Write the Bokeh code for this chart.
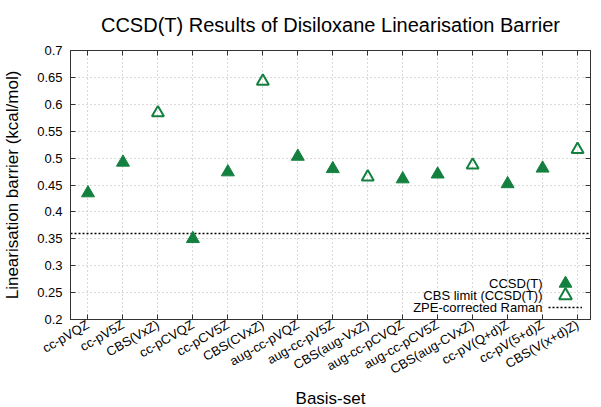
import math
from bokeh.plotting import figure
from bokeh.models import (Range1d, FixedTicker, LinearAxis, Legend, LegendItem,
                          Label, Title, ColumnDataSource)
from bokeh.embed import file_html
from bokeh.resources import INLINE

categories = ["cc-pVQZ", "cc-pV5Z", "CBS(VxZ)", "cc-pCVQZ", "cc-pCV5Z",
              "CBS(CVxZ)", "aug-cc-pVQZ", "aug-cc-pV5Z", "CBS(aug-VxZ)",
              "aug-cc-pCVQZ", "aug-cc-pCV5Z", "CBS(aug-CVxZ)", "cc-pV(Q+d)Z",
              "cc-pV(5+d)Z", "CBS(V(x+d)Z)"]
ccsdt_pos = [1, 2, 4, 5, 7, 8, 10, 11, 13, 14]
ccsdt_vals = [0.435, 0.492, 0.350, 0.474, 0.503, 0.480, 0.461, 0.470, 0.452, 0.481]
cbs_pos = [3, 6, 9, 12, 15]
cbs_vals = [0.584, 0.643, 0.465, 0.487, 0.516]
raman_val = 0.36
y_ticks = [0.2, 0.25, 0.3, 0.35, 0.4, 0.45, 0.5, 0.55, 0.6, 0.65, 0.7]
x_lo, x_hi = 0.5, 15.37
y_lo, y_hi = 0.2, 0.7

GREEN = "#13803f"
FONT = "Liberation Sans"
x_positions = list(range(1, len(categories) + 1))

p = figure(width=593, height=407, output_backend="svg", toolbar_location=None,
           x_range=Range1d(x_lo, x_hi), y_range=Range1d(y_lo, y_hi),
           min_border_left=67, min_border_right=3, min_border_top=50,
           min_border_bottom=86)

p.title.text = "CCSD(T) Results of Disiloxane Linearisation Barrier"
p.title.align = "center"
p.title.vertical_align = "top"
p.title.text_font = FONT
p.title.text_font_size = "20px"
p.title.text_font_style = "normal"
p.title.text_color = "black"
p.title.standoff = 26

p.outline_line_color = "#333333"
p.outline_line_width = 1
p.background_fill_color = "white"
p.border_fill_color = "white"

xt = FixedTicker(ticks=x_positions)
yt = FixedTicker(ticks=y_ticks)

xa = p.xaxis[0]
xa.ticker = xt
xa.major_label_overrides = {i: c for i, c in zip(x_positions, categories)}
xa.major_label_orientation = math.pi / 6
ya = p.yaxis[0]
ya.ticker = yt
ya.major_label_overrides = {t: ("%g" % t) for t in y_ticks}
ya.axis_label = "Linearisation barrier (kcal/mol)"

for ax in (xa, ya):
    ax.major_tick_in = 5
    ax.major_tick_out = 0
    ax.minor_tick_line_color = None
    ax.axis_line_color = "#333333"
    ax.major_tick_line_color = "#333333"
    ax.major_label_text_font = FONT
    ax.major_label_text_font_size = "13px"
    ax.major_label_text_color = "black"
    ax.axis_label_text_font = FONT
    ax.axis_label_text_font_size = "17px"
    ax.axis_label_text_font_style = "normal"
    ax.axis_label_text_color = "black"
xa.major_label_standoff = 4
ya.major_label_standoff = 8
ya.axis_label_standoff = 12

xlabel = Title(text="Basis-set", align="center", text_font=FONT,
               text_font_size="17px", text_font_style="normal",
               text_color="black", standoff=0, offset=0)
p.add_layout(xlabel, "below")

for side, tk in (("right", yt), ("above", xt)):
    ax = LinearAxis(ticker=tk)
    ax.major_tick_in = 5
    ax.major_tick_out = 0
    ax.minor_tick_line_color = None
    ax.axis_line_color = "#333333"
    ax.major_tick_line_color = "#333333"
    ax.major_label_text_font_size = "0px"
    ax.major_label_text_color = None
    ax.major_label_standoff = 0
    p.add_layout(ax, side)

p.xgrid.ticker = xt
p.ygrid.ticker = yt
for g in (p.xgrid, p.ygrid):
    g.grid_line_color = "#b4b4b4"
    g.grid_line_dash = "1 3"
    g.grid_line_width = 1

raman_r = p.line(x=[x_lo, x_hi], y=[raman_val, raman_val], line_color="black",
                 line_width=1.5, line_dash="2 2")

src1 = ColumnDataSource(dict(x=ccsdt_pos, y=ccsdt_vals))
src2 = ColumnDataSource(dict(x=cbs_pos, y=cbs_vals))
r1 = p.scatter("x", "y", source=src1, marker="triangle", size=13,
               fill_color=GREEN, line_color=GREEN, line_width=1)
r2 = p.scatter("x", "y", source=src2, marker="triangle", size=12,
               fill_color=None, line_color=GREEN, line_width=2)

legend_specs = [
    (r1, 32, 20, "CCSD(T)", 36),
    (r2, 32, 8, "CBS limit (CCSD(T))", 24),
    (raman_r, 12, 6, "ZPE-corrected Raman", 12),
]
for rend, gh, ly, txt, ty in legend_specs:
    lg = Legend(items=[LegendItem(label=" ", renderers=[rend])],
                location=(478, ly), glyph_width=34, glyph_height=gh,
                label_height=0, label_width=0, label_standoff=0,
                label_text_font_size="1px", label_text_color=None,
                padding=0, margin=0, spacing=0,
                border_line_alpha=0, background_fill_alpha=0)
    p.add_layout(lg, "center")
    p.add_layout(Label(x=472, y=ty, x_units="screen", y_units="screen", text=txt,
                       text_align="right", text_baseline="middle",
                       text_font=FONT, text_font_size="13px", text_color="black"))

open("out.html", "w").write(file_html(p, INLINE))
